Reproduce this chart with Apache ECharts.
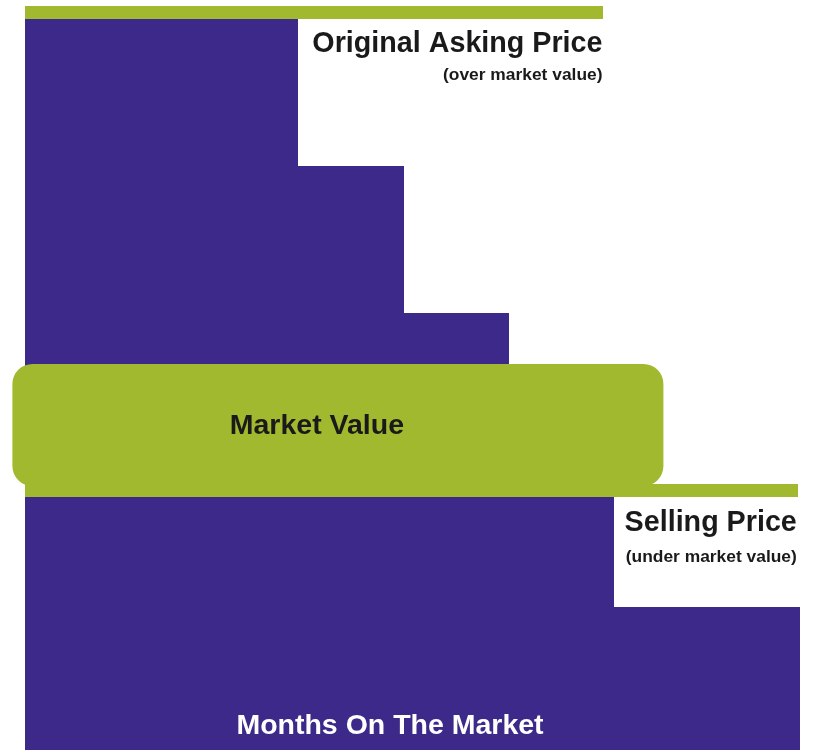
<!DOCTYPE html>
<html>
<head>
<meta charset="utf-8">
<script src="https://cdn.jsdelivr.net/npm/echarts@6/dist/echarts.min.js"></script>
<style>
  html, body { margin: 0; padding: 0; background: #fff; }
  #main { width: 814px; height: 750px; }
</style>
</head>
<body>
<div id="main"></div>
<script>
// months on the market: where each price step starts and ends
const stepStart = [0, 2.6, 3.61, 4.61, 5.61];
const stepEnd = [2.6, 3.61, 4.61, 5.61, 7.38];
// price level of each step (original asking price = 100)
const stepPrice = [100, 80, 60, 35, 20];

// original asking price line
const askingPrice = 100;
const askingUntil = 5.5;
// market value band
const marketLow = 36.45;
const marketHigh = 53.05;
const marketFrom = -0.12;
const marketTo = 6.08;
// selling price line
const sellingPrice = 34.9;
const sellingUntil = 7.36;

const purple = '#3c298a';
const green = '#a1b92e';
const ink = '#1a1a1a';
const font = '"Liberation Sans", Arial, sans-serif';

const chart = echarts.init(document.getElementById('main'));

const option = {
    animation: false,
    grid: { left: 25, right: 12, top: 4, bottom: 0 },
    xAxis: { type: 'value', min: 0, max: 7.4, show: false },
    // bottom edge of the picture sits a little above price 0
    yAxis: { type: 'value', min: 0.544, max: 102, show: false },
    series: [
        // purple price steps
        {
            type: 'custom',
            clip: false,
            data: stepPrice.map((p, i) => [stepStart[i], stepEnd[i], p]),
            encode: { x: [0, 1], y: 2 },
            renderItem: (params, api) => {
                const a = api.coord([api.value(0), api.value(2)]);
                const b = api.coord([api.value(1), 0]);
                // snap to whole pixels so neighbouring steps don't leave seams
                const x0 = Math.round(a[0]), x1 = Math.round(b[0]);
                const y0 = Math.round(a[1]), y1 = Math.round(b[1]);
                return {
                    type: 'rect',
                    shape: { x: x0, y: y0, width: x1 - x0, height: y1 - y0 },
                    style: { fill: purple }
                };
            }
        },
        // asking / selling price lines
        {
            type: 'custom',
            clip: false,
            data: [[0, askingUntil, askingPrice], [0, sellingUntil, sellingPrice]],
            encode: { x: [0, 1], y: 2 },
            renderItem: (params, api) => {
                const a = api.coord([api.value(0), api.value(2)]);
                const b = api.coord([api.value(1), api.value(2)]);
                return {
                    type: 'rect',
                    shape: { x: Math.round(a[0]), y: Math.round(a[1]) - 13, width: Math.round(b[0] - a[0]), height: 13 },
                    style: { fill: green }
                };
            }
        },
        // market value band
        {
            type: 'custom',
            clip: false,
            data: [[marketFrom, marketTo, marketLow, marketHigh]],
            encode: { x: [0, 1], y: [2, 3] },
            renderItem: (params, api) => {
                const a = api.coord([api.value(0), api.value(3)]);
                const b = api.coord([api.value(1), api.value(2)]);
                return {
                    type: 'rect',
                    shape: { x: a[0], y: a[1], width: b[0] - a[0], height: b[1] - a[1], r: 20 },
                    style: { fill: green }
                };
            }
        }
    ]
};
chart.setOption(option);

// labels anchored to the lines
const askEnd = chart.convertToPixel({ gridIndex: 0 }, [askingUntil, askingPrice]);
const sellEnd = chart.convertToPixel({ gridIndex: 0 }, [sellingUntil, sellingPrice]);
const mid = chart.convertToPixel({ gridIndex: 0 }, [2.78, (marketLow + marketHigh) / 2]);

const label = (x, y, text, size, color, align) => ({
    type: 'text',
    x: x,
    y: y,
    z: 100,
    style: {
        text: text,
        fill: color,
        font: 'bold ' + size + 'px ' + font,
        align: align,
        verticalAlign: 'middle'
    }
});

chart.setOption({
    graphic: [
        label(askEnd[0], askEnd[1] + 25, 'Original Asking Price', 28.7, ink, 'right'),
        label(askEnd[0], askEnd[1] + 56, '(over market value)', 17.4, ink, 'right'),
        label(mid[0], mid[1] + 1, 'Market Value', 28.5, ink, 'center'),
        label(sellEnd[0] - 1, sellEnd[1] + 26, 'Selling Price', 28.7, ink, 'right'),
        label(sellEnd[0] - 1, sellEnd[1] + 60, '(under market value)', 17.4, ink, 'right'),
        label(390, 726, 'Months On The Market', 28.5, '#ffffff', 'center')
    ]
});
</script>
</body>
</html>
